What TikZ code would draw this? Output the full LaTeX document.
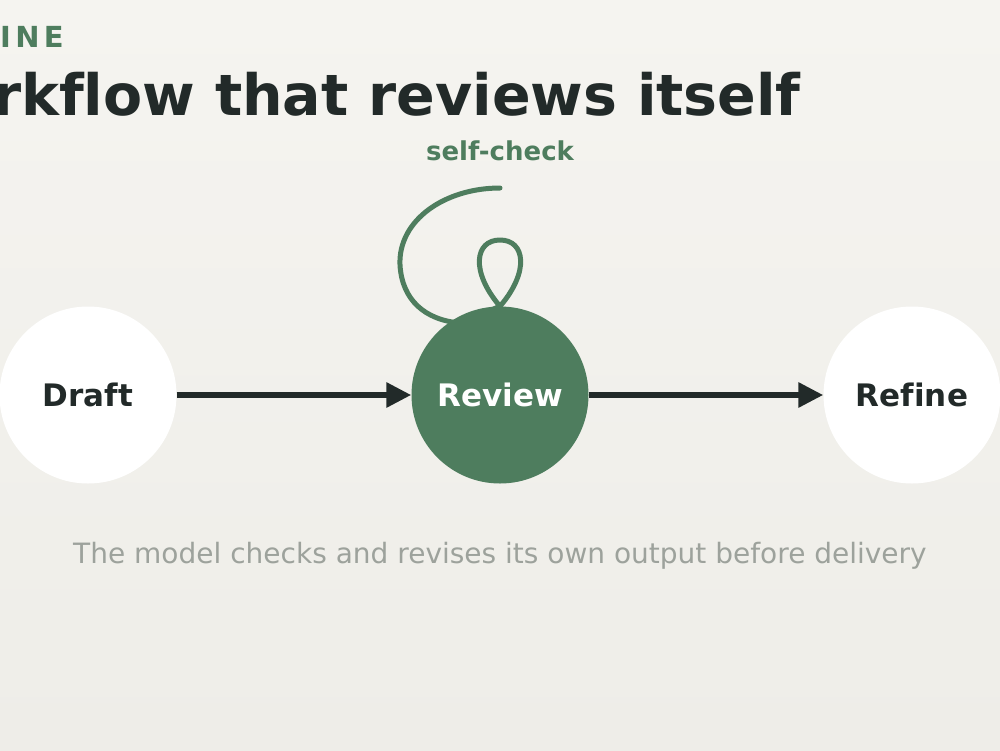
\documentclass[tikz,border=0pt]{standalone}
\usepackage{fontspec}
\setmainfont[Ligatures=NoCommon,RawFeature={-liga}]{DejaVu Sans}
\usepackage{xcolor}
\usepackage{tikz}
\usetikzlibrary{arrows.meta}
\definecolor{bgtop}{HTML}{F5F4F0}
\definecolor{bgbot}{HTML}{EEEDE8}
\definecolor{ink}{HTML}{222A29}
\definecolor{sage}{HTML}{4E7D5E}
\definecolor{muted}{HTML}{9DA29C}
\pgfdeclarelayer{bg}
\pgfdeclarelayer{behind}
\pgfsetlayers{bg,behind,main}
\tikzset{
  stage/.style={circle, minimum size=177pt, inner sep=0pt, fill=white, text=ink,
    font=\fontsize{31}{34}\selectfont\bfseries},
  flow/.style={draw=ink, line width=6pt, -{Triangle[length=25pt,width=24pt]}},
  loopline/.style={draw=sage, line width=5pt, line cap=round, line join=round},
  kick/.style={text=sage, font=\fontsize{29}{32}\selectfont\bfseries\addfontfeature{LetterSpace=15}},
  head/.style={text=ink, font=\fontsize{57}{62}\selectfont\bfseries},
  tag/.style={text=sage, font=\fontsize{26}{30}\selectfont\bfseries},
  note/.style={text=muted, font=\fontsize{28}{32}\selectfont},
}

\begin{document}
\begin{tikzpicture}[x=1pt,y=-1pt]
  \useasboundingbox (0,0) rectangle (1000,750);
  \begin{pgfonlayer}{bg}
    \shade[top color=bgtop, bottom color=bgbot] (0,0) rectangle (1000,750);
  \end{pgfonlayer}
  % heading
  \node[kick, anchor=base east, inner sep=0pt] (kicker) at (64,47) {INE};
  \node[head, anchor=base east, inner sep=0pt] (title) at (801,115) {rkflow that reviews itself};
  % stages
  \node[stage] (draft) at (88,395) {Draft};
  \node[stage, fill=sage, text=white] (review) at (500,395) {Review};
  \node[stage] (refine) at (912,395) {Refine};
  \foreach \a/\b in {draft/review,review/refine}
    \draw[flow] (\a) -- (\b);
  % self-check loop
  \coordinate (loopend) at (500,188);
  \node[tag, anchor=base, inner sep=0pt] (check) at (500,160) {self-check};
  \begin{pgfonlayer}{behind}
    \draw[loopline] (loopend) .. controls +(-55,0) and +(-2,-45) .. (400,265)
      .. controls +(2,35) and +(-35,-3) .. (460,323) -- (review.north)
      .. controls +(-30,-35) and +(-25,0) .. (500,240)
      .. controls +(25,0) and +(30,-35) .. (review.north);
  \end{pgfonlayer}
  \node[note, anchor=base, inner sep=0pt] (caption) at (500,563)
    {The model checks and revises its own output before delivery};
\end{tikzpicture}
\end{document}
